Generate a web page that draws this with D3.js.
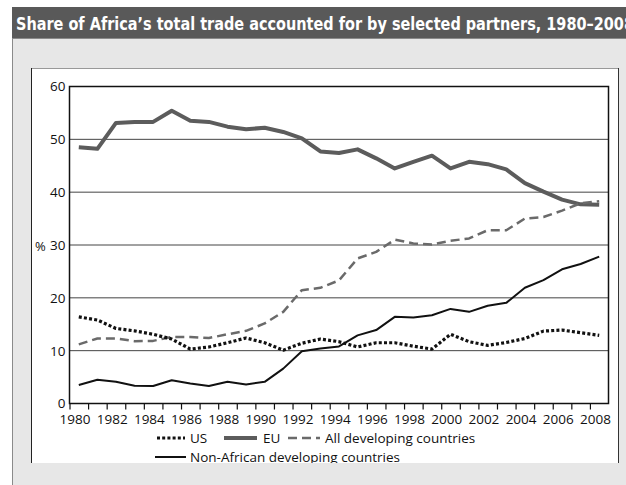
<!DOCTYPE html>
<html><head><meta charset="utf-8">
<script src="https://cdn.jsdelivr.net/npm/d3@7"></script>
<style>
html,body{margin:0;padding:0;background:#fff;}
svg{display:block;}
text{font-family:"Open Sans","Noto Sans",sans-serif;fill:#111;}
</style></head>
<body>
<svg id="c" width="626" height="485"></svg>
<script>
const years = d3.range(1980, 2009);
const usValues = [16.4,15.8,14.2,13.75,13.1,12.2,10.3,10.7,11.5,12.4,11.5,10.1,11.4,12.2,11.7,10.7,11.5,11.5,10.85,10.3,13.1,11.7,11.0,11.55,12.3,13.7,13.9,13.4,12.9];
const euValues = [48.5,48.2,53.1,53.3,53.3,55.4,53.5,53.3,52.4,51.9,52.2,51.4,50.2,47.7,47.4,48.1,46.4,44.5,45.75,46.9,44.5,45.75,45.3,44.3,41.7,40.1,38.6,37.7,37.6];
const allDevValues = [11.2,12.3,12.3,11.8,11.85,12.6,12.6,12.4,13.1,13.75,15.15,17.35,21.45,21.9,23.3,27.45,28.7,31.0,30.3,30.1,30.8,31.25,32.8,32.8,35.0,35.3,36.5,37.9,38.3];
const nonAfValues = [3.5,4.5,4.1,3.35,3.3,4.4,3.8,3.3,4.1,3.6,4.1,6.6,9.9,10.4,10.8,12.9,13.9,16.4,16.3,16.7,17.9,17.35,18.5,19.05,21.9,23.35,25.4,26.4,27.8];
const yTicks = [0,10,20,30,40,50,60];
const xTickLabels = d3.range(1980, 2009, 2);
const titleText = "Share of Africa\u2019s total trade accounted for by selected partners, 1980\u20132008";
const yLabel = "%";

const series = [
  {name:"EU", values:euValues, color:"#5c5c5c", width:4, dash:null},
  {name:"All developing countries", values:allDevValues, color:"#6a6a6a", width:2.5, dash:"9,5"},
  {name:"Non-African developing countries", values:nonAfValues, color:"#111", width:2, dash:null},
  {name:"US", values:usValues, color:"#111", width:3.2, dash:"3,2.2"}
];

const svg = d3.select("#c");

// background framing
svg.append("rect").attr("x",12).attr("y",7).attr("width",614).attr("height",31).attr("fill","#595959");
svg.append("rect").attr("x",12).attr("y",38).attr("width",614).attr("height",447).attr("fill","#e7e7e7");
svg.append("line").attr("x1",12.5).attr("x2",12.5).attr("y1",38).attr("y2",485).attr("stroke","#8a8a8a");
svg.append("line").attr("x1",12).attr("x2",626).attr("y1",38.5).attr("y2",38.5).attr("stroke","#8a8a8a");
svg.append("text").attr("x",16).attr("y",30)
  .attr("textLength",618).attr("lengthAdjust","spacingAndGlyphs")
  .style("font-family","'Liberation Sans Narrow','DejaVu Sans Condensed','Open Sans',sans-serif")
  .style("font-weight","bold").style("font-size","17px").style("fill","#fff")
  .text(titleText);

// white panel
svg.append("defs").append("clipPath").attr("id","pclip")
  .append("rect").attr("x",31).attr("y",68).attr("width",588).attr("height",395);
svg.append("rect").attr("x",31).attr("y",68).attr("width",588).attr("height",395).attr("fill","#fff");
svg.append("line").attr("x1",31).attr("x2",619).attr("y1",68.5).attr("y2",68.5).attr("stroke","#999");
svg.append("line").attr("x1",31.5).attr("x2",31.5).attr("y1",68).attr("y2",463).attr("stroke","#222");
svg.append("line").attr("x1",618.5).attr("x2",618.5).attr("y1",68).attr("y2",463).attr("stroke","#333");

const x = d3.scaleLinear().domain([1980, 2009]).range([69.5, 608.5]);
const y = d3.scaleLinear().domain([0, 60]).range([403.5, 86.5]);

// gridlines
svg.append("g").selectAll("line").data(yTicks.filter(v=>v>0 && v<60)).join("line")
  .attr("x1",x(1980)).attr("x2",x(2009)).attr("y1",d=>y(d)).attr("y2",d=>y(d))
  .attr("stroke","#444").attr("stroke-width",1);

// y axis labels
svg.append("g").selectAll("text").data(yTicks).join("text")
  .attr("x",65.5).attr("y",d=>y(d)).attr("dy","0.36em").attr("text-anchor","end")
  .style("font-size","13.5px").text(d=>d);
svg.append("text").attr("x",35).attr("y",251).style("font-size","13px").text(yLabel);

// x axis
const xAxis = d3.axisBottom(x).tickValues(d3.range(1980, 2009)).tickSize(6).tickSizeOuter(0)
  .tickFormat(d => xTickLabels.includes(d) ? d : "");
const gx = svg.append("g").attr("transform",`translate(0,${y(0)})`).call(xAxis);
gx.select(".domain").remove();
gx.selectAll(".tick line").attr("stroke","#111").attr("stroke-width",1.2);
gx.selectAll(".tick text").attr("x",5).attr("y",11).attr("dy","0.71em").style("font-size","13.5px")
  .style("font-family","'Open Sans',sans-serif").attr("fill","#111");

// lines
const line = d3.line().x((d,i)=>x(years[i]+0.5)).y(d=>y(d));
svg.append("g").selectAll("path").data(series).join("path")
  .attr("d",d=>line(d.values)).attr("fill","none")
  .attr("stroke",d=>d.color).attr("stroke-width",d=>d.width)
  .attr("stroke-dasharray",d=>d.dash).attr("stroke-linejoin","round");

// frame
svg.append("rect").attr("x",x(1980)).attr("y",y(60)).attr("width",x(2009)-x(1980)).attr("height",y(0)-y(60))
  .attr("fill","none").attr("stroke","#111").attr("stroke-width",1.5);

// legend
const legendItems = [
  {s:series[3], x1:157, x2:185, tx:190, ty:438},
  {s:series[0], x1:224, x2:257, tx:263, ty:438},
  {s:series[1], x1:288, x2:320, tx:325, ty:438},
  {s:series[2], x1:155, x2:186, tx:190, ty:457}
];
const lg = svg.append("g").attr("clip-path","url(#pclip)");
const li = lg.selectAll("g").data(legendItems).join("g");
li.append("line").attr("x1",d=>d.x1).attr("x2",d=>d.x2).attr("y1",d=>d.ty).attr("y2",d=>d.ty)
  .attr("stroke",d=>d.s.color).attr("stroke-width",d=>d.s.width)
  .attr("stroke-dasharray",d=>d.s.dash);
li.append("text").attr("x",d=>d.tx).attr("y",d=>d.ty).attr("dy","0.35em")
  .style("font-size","13.5px").text(d=>d.s.name);
</script>
</body></html>
